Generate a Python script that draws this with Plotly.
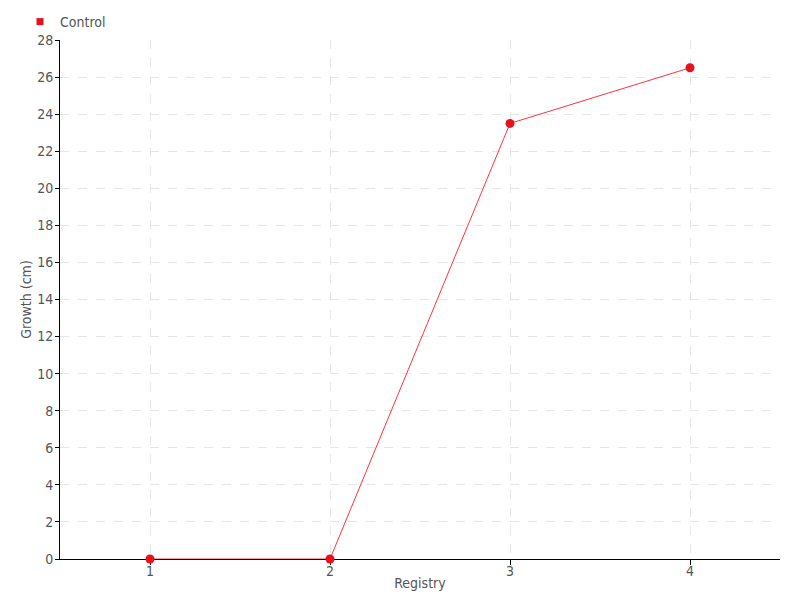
import plotly.graph_objects as go

registry = [1, 2, 3, 4]
growth = [0, 0, 23.5, 26.5]
series_name = "Control"
y_ticks = list(range(0, 29, 2))

FONT = "Liberation Sans Narrow, DejaVu Sans Condensed, Roboto, sans-serif"
TXT = "#555555"

fig = go.Figure()
fig.add_trace(go.Scatter(
    x=registry, y=growth, mode="lines+markers", name=series_name,
    line=dict(color="#ff3340", width=1),
    marker=dict(color="#e8101e", size=9, line=dict(width=0)),
    showlegend=False, cliponaxis=False,
))
fig.add_trace(go.Scatter(
    x=[None], y=[None], mode="markers", name=series_name,
    marker=dict(color="#e8101e", size=7, symbol="square"),
))

grid = dict(showgrid=True, gridcolor="#e6e6e6", griddash="dash", gridwidth=1)
fig.update_layout(
    width=800, height=600,
    margin=dict(l=60, r=20, t=40, b=41, autoexpand=False),
    paper_bgcolor="white", plot_bgcolor="white",
    font=dict(family=FONT, size=14, color=TXT),
    legend=dict(xref="container", yref="container", x=20 / 800, y=1 - 22 / 600,
                xanchor="left", yanchor="middle",
                orientation="h", font=dict(size=14, color=TXT),
                itemwidth=30, tracegroupgap=0,
                bgcolor="rgba(0,0,0,0)"),
    xaxis=dict(range=[0.5, 4.5], tickvals=registry, ticktext=[str(r) for r in registry],
               title=dict(text="Registry", standoff=0, font=dict(size=14, color=TXT)),
               showline=True, linecolor="black", linewidth=1,
               ticks="outside", ticklen=5, tickcolor="black", ticklabelstandoff=-6,
               zeroline=False, automargin=False, layer="below traces", **grid),
    yaxis=dict(range=[0, 28], tickvals=y_ticks,
               title=dict(text="Growth (cm)", standoff=2, font=dict(size=14, color=TXT)),
               showline=True, linecolor="black", linewidth=1,
               ticks="outside", ticklen=4, tickcolor="black", ticklabelstandoff=-1,
               zeroline=False, automargin=False, layer="below traces", **grid),
)
fig.write_html("out.html", config={"displayModeBar": False},
               post_script="document.body.style.margin='0';")
